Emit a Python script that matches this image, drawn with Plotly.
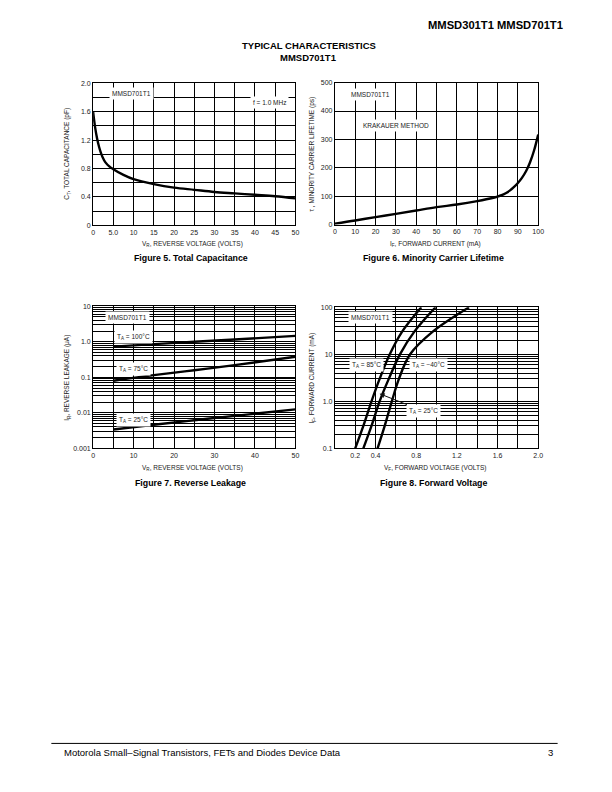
import math
import plotly.graph_objects as go

# ---------------- data ----------------
cap_v = [0, 0.5, 1, 1.5, 2, 2.5, 3, 4, 5, 7.5, 10, 15, 20, 25, 30, 35, 40, 45, 50]
cap_c = [1.60, 1.38, 1.22, 1.10, 1.01, 0.94, 0.89, 0.83, 0.79, 0.71, 0.65, 0.58, 0.53, 0.50, 0.47, 0.45, 0.43, 0.41, 0.38]

life_i = [0, 10, 20, 30, 40, 50, 60, 70, 78, 80, 82, 84, 86, 88, 90, 92, 94, 96, 98, 100]
life_t = [4, 15, 27, 38, 50, 62, 71, 83, 95, 99, 104, 111, 120, 132, 147, 165, 188, 220, 262, 317]

leak_v = [5, 15, 25, 35, 50]
leak_100 = [0.73, 0.86, 1.0, 1.16, 1.47]
leak_75 = [0.08, 0.115, 0.158, 0.22, 0.38]
leak_25 = [0.0034, 0.0046, 0.0062, 0.0082, 0.0125]

fwd_i = [0.1, 0.3, 1, 3, 10, 30, 100]
fwd_85 = [0.20, 0.28, 0.36, 0.44, 0.54, 0.66, 0.85]
fwd_25 = [0.28, 0.36, 0.44, 0.53, 0.64, 0.78, 0.99]
fwd_m40 = [0.42, 0.49, 0.56, 0.63, 0.74, 0.96, 1.32]

# ---------------- layout helpers ----------------
W, H = 612, 792
FONT = "Liberation Sans, Arial, Helvetica, sans-serif"


def px(x):
    return x / W


def py(y):
    return 1 - y / H


def dom_x(a, b):
    return [px(a), px(b)]


def dom_y(top, bottom):
    return [py(bottom), py(top)]


CURVE = dict(color="black", width=2.4)
fig = go.Figure()

fig.add_trace(go.Scatter(x=cap_v, y=cap_c, mode="lines", line=dict(shape="spline", **CURVE),
                         xaxis="x", yaxis="y", showlegend=False))
fig.add_trace(go.Scatter(x=life_i, y=life_t, mode="lines", line=dict(shape="spline", **CURVE),
                         xaxis="x2", yaxis="y2", showlegend=False))
for ser in (leak_100, leak_75, leak_25):
    fig.add_trace(go.Scatter(x=leak_v, y=ser, mode="lines", line=dict(shape="spline", **CURVE),
                             xaxis="x3", yaxis="y3", showlegend=False))
for ser in (fwd_85, fwd_25, fwd_m40):
    fig.add_trace(go.Scatter(x=ser, y=fwd_i, mode="lines", line=dict(shape="spline", **CURVE),
                             xaxis="x4", yaxis="y4", showlegend=False))

tickfont = dict(family=FONT, size=7, color="#222")
GRID = "#000"
common = dict(showline=True, linecolor="black", linewidth=1, mirror=True,
              showgrid=True, gridcolor=GRID, gridwidth=1, zeroline=False,
              ticks="", tickfont=tickfont, fixedrange=True)


def minor_grid(vals):
    return dict(tickvals=vals, showgrid=True, gridcolor=GRID, gridwidth=1, ticks="")


def frange(start, stop, step):
    n = int(round((stop - start) / step))
    return [round(start + k * step, 6) for k in range(n + 1)]


def log_minor(lo_exp, hi_exp):
    return [m * 10 ** e for e in range(lo_exp, hi_exp) for m in range(2, 10)]


# Plot 1 axes
x1v = frange(0, 50, 5)
x1t = ["0", "5.0"] + [f"{v:g}" for v in x1v[2:]]
y1v = [0, 0.4, 0.8, 1.2, 1.6, 2.0]
y1t = ["0", "0.4", "0.8", "1.2", "1.6", "2.0"]
y1m = [0.2, 0.6, 1.0, 1.4, 1.8]
# Plot 2 axes
x2v = frange(0, 100, 10)
x2t = [f"{v:g}" for v in x2v]
y2v = frange(0, 500, 100)
y2t = [f"{v:g}" for v in y2v]
# Plot 3 axes
x3v = frange(0, 50, 10)
x3t = [f"{v:g}" for v in x3v]
x3m = [5, 15, 25, 35, 45]
y3v = [0.001, 0.01, 0.1, 1, 10]
y3t = ["0.001", "0.01", "0.1", "1.0", "10"]
# Plot 4 axes
x4v = [0.2, 0.4, 0.8, 1.2, 1.6, 2.0]
x4t = ["0.2", "0.4", "0.8", "1.2", "1.6", "2.0"]
x4m = [0.6, 1.0, 1.4, 1.8]
y4v = [0.1, 1, 10, 100]
y4t = ["0.1", "1.0", "10", "100"]

L1, R1 = 92.3, 297.3
L2, R2 = 337.3, 543.3

fig.update_layout(
    width=W, height=H, margin=dict(l=0, r=0, t=0, b=0),
    paper_bgcolor="white", plot_bgcolor="white",
    font=dict(family=FONT, color="#222"),
    xaxis=dict(domain=dom_x(L1, R1), anchor="y", range=[0, 50], tickvals=x1v, ticktext=x1t, **common),
    yaxis=dict(domain=dom_y(80, 223.3), anchor="x", range=[0, 2.0], tickvals=y1v, ticktext=y1t,
               minor=minor_grid(y1m), **common),
    xaxis2=dict(domain=dom_x(L2, R2), anchor="y2", range=[0, 100], tickvals=x2v, ticktext=x2t, **common),
    yaxis2=dict(domain=dom_y(79.3, 222.7), anchor="x2", range=[0, 500], tickvals=y2v, ticktext=y2t, **common),
    xaxis3=dict(domain=dom_x(L1, R1), anchor="y3", range=[0, 50], tickvals=x3v, ticktext=x3t,
                minor=minor_grid(x3m), **common),
    yaxis3=dict(domain=dom_y(305, 448.3), anchor="x3", type="log", range=[-3, 1], tickvals=y3v, ticktext=y3t,
                minor=minor_grid(log_minor(-3, 1)), **common),
    xaxis4=dict(domain=dom_x(L2, R2), anchor="y4", range=[0, 2.0], tickvals=x4v, ticktext=x4t,
                minor=minor_grid(x4m), **common),
    yaxis4=dict(domain=dom_y(306, 448.3), anchor="x4", type="log", range=[-1, 2], tickvals=y4v, ticktext=y4t,
                minor=minor_grid(log_minor(-1, 2)), **common),
)

ann = []


def paper_text(text, x, y, size, bold=False, xanchor="center", color="#111"):
    t = f"<b>{text}</b>" if bold else text
    ann.append(dict(text=t, x=px(x), y=py(y), xref="paper", yref="paper", showarrow=False,
                    xanchor=xanchor, yanchor="middle", font=dict(family=FONT, size=size, color=color)))


def vtitle(text, x, y):
    ann.append(dict(text=text, x=px(x), y=py(y), xref="paper", yref="paper", showarrow=False,
                    textangle=-90, xanchor="center", yanchor="middle",
                    font=dict(family=FONT, size=6.5, color="#222")))


def label(text, x, y, xr, yr, size=6.5):
    ann.append(dict(text=text, x=x, y=y, xref=xr, yref=yr, showarrow=False,
                    bgcolor="white", borderpad=2, xanchor="center", yanchor="middle",
                    font=dict(family=FONT, size=size, color="#222")))


# page text
paper_text("MMSD301T1 MMSD701T1", 500.5, 21, 11.2, bold=True, color="#000")
paper_text("TYPICAL CHARACTERISTICS", 311, 42, 9.5, bold=True, color="#000")
paper_text("MMSD701T1", 311, 53.5, 9.5, bold=True, color="#000")
paper_text("Figure 5. Total Capacitance", 191.5, 256, 8.8, bold=True, color="#000")
paper_text("Figure 6. Minority Carrier Lifetime", 437.5, 256, 8.8, bold=True, color="#000")
paper_text("Figure 7. Reverse Leakage", 191.5, 483, 8.8, bold=True, color="#000")
paper_text("Figure 8. Forward Voltage", 437.5, 483, 8.8, bold=True, color="#000")
paper_text("Motorola Small–Signal Transistors, FETs and Diodes Device Data", 61, 755, 9.5, xanchor="left", color="#000")
paper_text("3", 556, 755, 9.5, color="#000")

# axis titles
paper_text("V<sub>R</sub>, REVERSE VOLTAGE (VOLTS)", 193, 242, 6.5, color="#222")
paper_text("I<sub>F</sub>, FORWARD CURRENT (mA)", 439, 242, 6.5, color="#222")
paper_text("V<sub>R</sub>, REVERSE VOLTAGE (VOLTS)", 193, 468, 6.5, color="#222")
paper_text("V<sub>F</sub>, FORWARD VOLTAGE (VOLTS)", 439, 468, 6.5, color="#222")
vtitle("C<sub>T</sub>, TOTAL CAPACITANCE (pF)", 66, 151)
vtitle("τ , MINORITY CARRIER LIFETIME (ps)", 314, 151)
vtitle("I<sub>R</sub>, REVERSE LEAKAGE (μA)", 66, 377)
vtitle("I<sub>F</sub>, FORWARD CURRENT (mA)", 314, 377)

# in-plot labels
label("MMSD701T1", 9.6, 1.85, "x", "y")
label("f = 1.0 MHz", 43.5, 1.73, "x", "y")
label("MMSD701T1", 17.5, 458, "x2", "y2")
label("KRAKAUER METHOD", 30, 350, "x2", "y2")
label("MMSD701T1", 8.5, math.log10(4.8), "x3", "y3")
label("T<sub>A</sub> = 100°C", 10, math.log10(1.35), "x3", "y3")
label("T<sub>A</sub> = 75°C", 10, math.log10(0.17), "x3", "y3")
label("T<sub>A</sub> = 25°C", 10, math.log10(0.0062), "x3", "y3")
label("MMSD701T1", 0.35, math.log10(62), "x4", "y4")
label("T<sub>A</sub> = 85°C", 0.31, math.log10(6.0), "x4", "y4")
label("T<sub>A</sub> = −40°C", 0.92, math.log10(5.8), "x4", "y4")
ann.append(dict(text="T<sub>A</sub> = 25°C", x=0.44, y=math.log10(1.45), xref="x4", yref="y4",
                ax=0.87, ay=math.log10(0.62), axref="x4", ayref="y4",
                showarrow=True, arrowhead=2, arrowsize=1, arrowwidth=1, arrowcolor="#111",
                bgcolor="white", borderpad=2, font=dict(family=FONT, size=6.5, color="#222")))

fig.update_layout(annotations=ann)

# footer rule
fig.add_shape(type="line", xref="paper", yref="paper", x0=px(50), x1=px(563), y0=py(746), y1=py(746),
              line=dict(color="black", width=1))

fig.write_html("out.html")
